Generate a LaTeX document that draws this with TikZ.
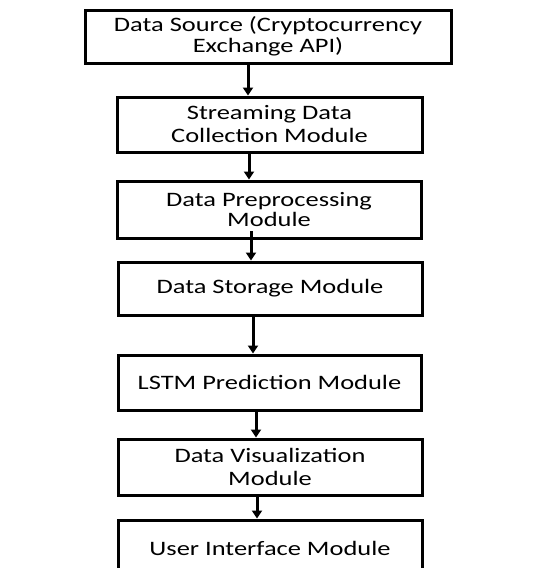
\documentclass[tikz,border=0pt]{standalone}
\usepackage{fontspec}
\setmainfont[FakeStretch=1.29]{Carlito}
\usetikzlibrary{arrows.meta}
\begin{document}
\begin{tikzpicture}[x=1pt,y=1pt,
  box/.style={draw=black,line width=3pt,align=center,inner sep=0pt,
    font=\fontsize{20.5}{23}\selectfont},
  arr/.style={line width=3pt,-{Triangle[width=10pt,length=8pt]}}]
\useasboundingbox (0,0) rectangle (548,-568);
\node[box,minimum width=366pt,minimum height=53pt] (b1) at (268,-36.5) {\raisebox{-1.5pt}{\shortstack{Data Source (Cryptocurrency\\[0pt]Exchange API)}}};
\node[box,minimum width=305pt,minimum height=55pt] (b2) at (269.5,-124.5) {Streaming Data\\Collection Module};
\node[box,minimum width=304pt,minimum height=57pt] (b3) at (269,-209.5) {\raisebox{-3pt}{\shortstack{Data Preprocessing\\[0pt]Module}}};
\node[box,minimum width=304pt,minimum height=53pt] (b4) at (270,-288.5) {Data Storage Module};
\node[box,minimum width=303pt,minimum height=55pt] (b5) at (269.5,-382.5) {LSTM Prediction Module};
\node[box,minimum width=304pt,minimum height=56pt] (b6) at (270,-467) {Data Visualization\\Module};
\node[box,minimum width=304pt,minimum height=56pt] (b7) at (270,-548) {User Interface Module};
\coordinate (s3) at (251,-231);
\draw[arr] (b1.south -| 248,0) -- (b2.north -| 248,0);
\draw[arr] (b2.south -| 249,0) -- (b3.north -| 249,0);
\draw[arr] (s3) -- (b4.north -| 251,0);
\draw[arr] (b4.south -| 253,0) -- (b5.north -| 253,0);
\draw[arr] (b5.south -| 256,0) -- (b6.north -| 256,0);
\draw[arr] (b6.south -| 257,0) -- (b7.north -| 257,0);
\end{tikzpicture}
\end{document}
